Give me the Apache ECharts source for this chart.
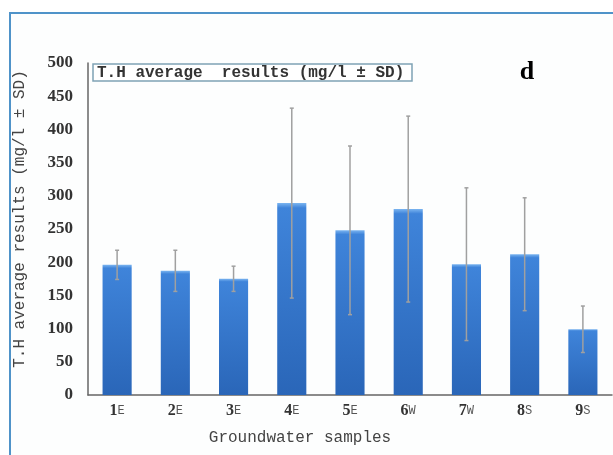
<!DOCTYPE html>
<html>
<head>
<meta charset="utf-8">
<script src="https://cdn.jsdelivr.net/npm/echarts@6/dist/echarts.min.js"></script>
<style>html,body{margin:0;padding:0;background:#fff;}#c{width:613px;height:455px;}</style>
</head>
<body>
<div id="c"></div>
<script>
const categories = ['1E','2E','3E','4E','5E','6W','7W','8S','9S'];
const meanValues = [196, 187, 175, 289, 248, 280, 197, 212, 99];
const sdValues = [22, 31, 19, 143, 127, 140, 115, 85, 35];
const yTicks = [0,50,100,150,200,250,300,350,400,450,500];
const yAxisTitle = 'T.H average results (mg/l \u00b1 SD)';
const xAxisTitle = 'Groundwater samples';
const legendText = 'T.H average  results (mg/l \u00b1 SD)';
const panelLetter = 'd';

const errData = categories.map((c, i) => [i, meanValues[i] - sdValues[i], meanValues[i] + sdValues[i]]);

const chart = echarts.init(document.getElementById('c'));
chart.setOption({
  animation: false,
  backgroundColor: '#ffffff',
  graphic: [
    { type: 'rect', z: -10, shape: { x: 10, y: 13, width: 620, height: 460 },
      style: { fill: '#fdfefe', stroke: '#4f93c9', lineWidth: 2 } },
    { type: 'rect', z: 10, shape: { x: 93, y: 64, width: 319, height: 17 },
      style: { fill: '#ffffff', stroke: '#7fa3b5', lineWidth: 1.5 } },
    { type: 'text', z: 11, x: 97, y: 72.5,
      style: { text: legendText, fill: '#333', fontFamily: '"Liberation Mono", monospace', fontSize: 16, fontWeight: 'bold', textVerticalAlign: 'middle' } },
    { type: 'text', z: 11, x: 527, y: 72,
      style: { text: panelLetter, fill: '#000', fontFamily: '"Liberation Serif", serif', fontSize: 26, fontWeight: 'bold', textAlign: 'center', textVerticalAlign: 'middle' } },
    { type: 'text', z: 11, x: 300, y: 438,
      style: { text: xAxisTitle, fill: '#444', fontFamily: '"Liberation Mono", monospace', fontSize: 16, textAlign: 'center', textVerticalAlign: 'middle' } },
    { type: 'text', z: 11, x: 20, y: 219, rotation: Math.PI / 2,
      style: { text: yAxisTitle, fill: '#444', fontFamily: '"Liberation Mono", monospace', fontSize: 16, textAlign: 'center', textVerticalAlign: 'middle' } }
  ],
  grid: { left: 88, top: 63, width: 524, height: 332 },
  xAxis: {
    type: 'category',
    data: categories,
    axisLine: { lineStyle: { color: '#666', width: 1.5 } },
    axisTick: { show: false },
    axisLabel: {
      interval: 0,
      margin: 8,
      formatter: v => '{n|' + v.slice(0, 1) + '}{l|' + v.slice(1) + '}',
      rich: {
        n: { fontFamily: '"Liberation Serif", serif', fontWeight: 'bold', fontSize: 16, color: '#333' },
        l: { fontFamily: '"Liberation Mono", monospace', fontSize: 12, color: '#555' }
      }
    }
  },
  yAxis: {
    type: 'value',
    min: yTicks[0], max: yTicks[yTicks.length - 1], interval: 50,
    axisLine: { show: true, lineStyle: { color: '#666', width: 1.5 } },
    axisTick: { show: false },
    splitLine: { show: false },
    axisLabel: { margin: 15, fontFamily: '"Liberation Serif", serif', fontWeight: 'bold', fontSize: 17, color: '#333' }
  },
  series: [
    {
      type: 'bar',
      data: meanValues,
      barWidth: '50%',
      itemStyle: {
        color: new echarts.graphic.LinearGradient(0, 0, 0, 1, [
          { offset: 0, color: '#7ab4f0' },
          { offset: 0.025, color: '#3f84da' },
          { offset: 1, color: '#2a66b8' }
        ])
      }
    },
    {
      type: 'custom',
      data: errData,
      z: 5,
      renderItem: function (params, api) {
        const x = api.value(0);
        const lo = api.coord([x, api.value(1)]);
        const hi = api.coord([x, api.value(2)]);
        const cap = 2;
        const st = { stroke: '#a0a0a0', lineWidth: 1.5 };
        return {
          type: 'group',
          children: [
            { type: 'line', shape: { x1: hi[0], y1: hi[1], x2: lo[0], y2: lo[1] }, style: st },
            { type: 'line', shape: { x1: hi[0] - cap, y1: hi[1], x2: hi[0] + cap, y2: hi[1] }, style: st },
            { type: 'line', shape: { x1: lo[0] - cap, y1: lo[1], x2: lo[0] + cap, y2: lo[1] }, style: st }
          ]
        };
      }
    }
  ]
});
</script>
</body>
</html>
